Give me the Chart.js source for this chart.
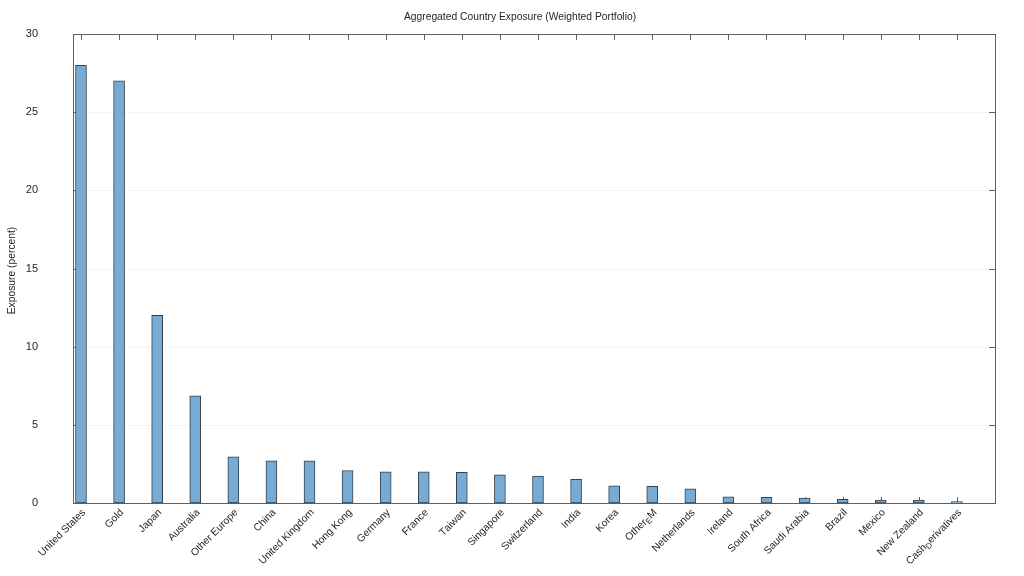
<!DOCTYPE html>
<html>
<head>
<meta charset="utf-8">
<title>Aggregated Country Exposure (Weighted Portfolio)</title>
<script src="https://cdn.jsdelivr.net/npm/chart.js@4.4.1/dist/chart.umd.min.js"></script>
<style>
  html, body { margin: 0; padding: 0; background: #fff; }
  #wrap { width: 1024px; height: 576px; }
</style>
</head>
<body>
<div id="wrap"><canvas id="exposureChart"></canvas></div>
<script>
// Chart data
const countries = [
    'United States', 'Gold', 'Japan', 'Australia', 'Other Europe', 'China',
    'United Kingdom', 'Hong Kong', 'Germany', 'France', 'Taiwan', 'Singapore',
    'Switzerland', 'India', 'Korea', 'Other_EM', 'Netherlands', 'Ireland',
    'South Africa', 'Saudi Arabia', 'Brazil', 'Mexico', 'New Zealand', 'Cash_Derivatives'
];
const exposure = [
    28.0, 27.0, 12.0, 6.85, 2.95, 2.7,
    2.7, 2.08, 2.0, 2.0, 1.96, 1.8,
    1.72, 1.52, 1.1, 1.07, 0.9, 0.4,
    0.36, 0.32, 0.24, 0.19, 0.19, 0.09
];
const yTicks = [0, 5, 10, 15, 20, 25, 30];

const chartTitle = 'Aggregated Country Exposure (Weighted Portfolio)';
const yTitle = 'Exposure (percent)';

const FONT = '"Liberation Sans", Arial, sans-serif';
const TEXT = '#262626';
const FRAME = '#5f5f5f';

/**
 * Draw text the way gnuplot's enhanced mode does: "_X" subscripts one char
 * Right-aligned at the current origin
 */
function drawEnhanced(ctx, text, size) {
    const parts = [];
    for (let i = 0; i < text.length; i++) {
        if (text[i] === '_' && i + 1 < text.length) {
            parts.push({ s: text[i + 1], sub: true });
            i++;
        } else {
            parts.push({ s: text[i], sub: false });
        }
    }
    let total = 0;
    parts.forEach(p => {
        ctx.font = (p.sub ? size * 0.8 : size) + 'px ' + FONT;
        p.w = ctx.measureText(p.s).width;
        total += p.w;
    });
    let x = -total;
    ctx.textAlign = 'left';
    parts.forEach(p => {
        ctx.font = (p.sub ? size * 0.8 : size) + 'px ' + FONT;
        ctx.fillText(p.s, x, p.sub ? 3 : 0);
        x += p.w;
    });
}

// Frame, inward ticks and grid, painted behind the bars
const framePlugin = {
    id: 'gnuplotFrame',
    beforeDatasetsDraw(chart) {
        const { ctx, chartArea: a, scales } = chart;
        const x = scales.x, y = scales.y;
        ctx.save();

        // dotted grid at y ticks
        ctx.strokeStyle = '#d4d4d4';
        ctx.lineWidth = 1;
        ctx.setLineDash([1, 3]);
        yTicks.forEach(t => {
            if (t === 0 || t === 30) return;
            const py = Math.round(y.getPixelForValue(t)) + 0.5;
            ctx.beginPath();
            ctx.moveTo(a.left, py);
            ctx.lineTo(a.right, py);
            ctx.stroke();
        });
        ctx.setLineDash([]);

        // ticks
        ctx.strokeStyle = FRAME;
        const len = 6;
        yTicks.forEach(t => {
            const py = Math.round(y.getPixelForValue(t)) + 0.5;
            ctx.beginPath();
            ctx.moveTo(a.left, py); ctx.lineTo(a.left + len, py);
            ctx.moveTo(a.right, py); ctx.lineTo(a.right - len, py);
            ctx.stroke();
        });
        countries.forEach((c, i) => {
            const px = Math.round(x.getPixelForValue(i)) + 0.5;
            ctx.beginPath();
            ctx.moveTo(px, a.top); ctx.lineTo(px, a.top + len);
            ctx.moveTo(px, a.bottom); ctx.lineTo(px, a.bottom - len);
            ctx.stroke();
        });
        ctx.restore();
    },
    afterDatasetsDraw(chart) {
        const { ctx, chartArea: a, scales } = chart;
        const x = scales.x, y = scales.y;
        ctx.save();

        // border
        ctx.strokeStyle = FRAME;
        ctx.lineWidth = 1;
        ctx.strokeRect(Math.round(a.left) + 0.5, Math.round(a.top) + 0.5,
            Math.round(a.right - a.left), Math.round(a.bottom - a.top));

        ctx.fillStyle = TEXT;

        // y tick labels
        ctx.font = '11px ' + FONT;
        ctx.textAlign = 'right';
        ctx.textBaseline = 'middle';
        yTicks.forEach(t => {
            ctx.fillText(String(t), a.left - 35, y.getPixelForValue(t));
        });

        // x labels, rotated 45 degrees
        ctx.textBaseline = 'middle';
        countries.forEach((c, i) => {
            ctx.save();
            ctx.translate(x.getPixelForValue(i) + 3, a.bottom + 8);
            ctx.rotate(-Math.PI / 4);
            drawEnhanced(ctx, c, 10.3);
            ctx.restore();
        });

        // title
        ctx.font = '10.3px ' + FONT;
        ctx.textAlign = 'center';
        ctx.textBaseline = 'middle';
        ctx.fillText(chartTitle, 520, 17);

        // y axis title
        ctx.save();
        ctx.font = '10.3px ' + FONT;
        ctx.translate(12, (a.top + a.bottom) / 2 + 2);
        ctx.rotate(-Math.PI / 2);
        ctx.fillText(yTitle, 0, 0);
        ctx.restore();

        ctx.restore();
    }
};

new Chart(document.getElementById('exposureChart'), {
    type: 'bar',
    data: {
        datasets: [{
            label: 'Exposure',
            data: countries.map((c, i) => ({ x: i, y: exposure[i] })),
            backgroundColor: '#77abd3',
            borderColor: '#34404c',
            borderWidth: 1,
            borderSkipped: false,
            barThickness: 11
        }]
    },
    options: {
        responsive: true,
        maintainAspectRatio: false,
        animation: false,
        layout: {
            padding: { left: 73, right: 29, top: 34, bottom: 73 }
        },
        scales: {
            x: { type: 'linear', min: -0.21, max: 24.0, offset: false, display: false },
            y: { min: 0, max: 30, display: false }
        },
        plugins: {
            legend: { display: false },
            tooltip: { enabled: false }
        }
    },
    plugins: [framePlugin]
});
</script>
</body>
</html>
